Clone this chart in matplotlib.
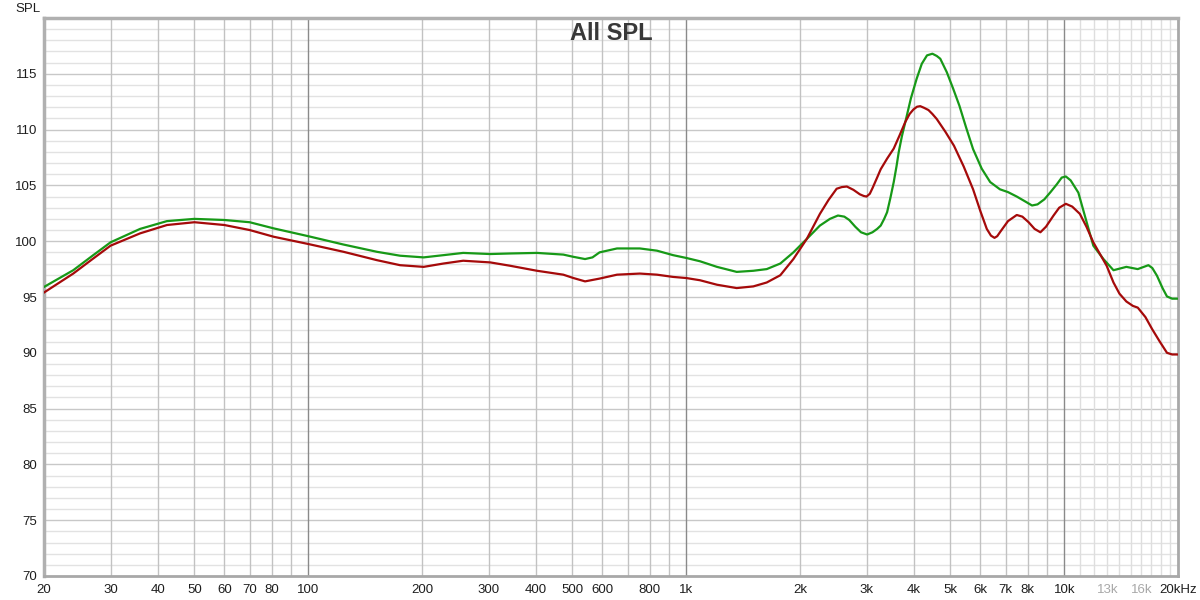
"""
Recreates the 'All SPL' frequency response plot (REW style) with matplotlib.
Saves the figure as out.png (1200x600).
"""

import matplotlib.pyplot as plt
from matplotlib.ticker import FixedLocator, NullLocator

# Frequency response readings (Hz, dB SPL)
green_freq = [20, 23.9, 27, 30, 35.9, 42.3, 50, 60, 70, 81, 100, 124, 152, 175,
              202, 228, 257, 303, 342, 403, 473, 503, 540, 565, 590, 656, 754,
              837, 923, 1000, 1088, 1206, 1360, 1505, 1633, 1774, 1921, 2084,
              2258, 2400, 2520, 2620, 2700, 2800, 2900, 3010, 3110, 3200, 3270,
              3340, 3400, 3470, 3540, 3600, 3650, 3720, 3800, 3930, 4070, 4200,
              4335, 4480, 4600, 4700, 4890, 5080, 5280, 5500, 5740, 6050, 6370,
              6760, 7100, 7490, 7850, 8220, 8500, 8860, 9200, 9560, 9850, 10100,
              10400, 10900, 11400, 11940, 12700, 13500, 14600, 15650, 16700,
              17100, 17600, 18200, 18700, 19300, 20000]
green_spl = [95.9, 97.4, 98.75, 99.9, 101.1, 101.8, 102.0, 101.9, 101.7, 101.15,
             100.45, 99.7, 99.05, 98.7, 98.55, 98.75, 98.95, 98.85, 98.9, 98.95,
             98.8, 98.6, 98.4, 98.55, 99.0, 99.35, 99.35, 99.15, 98.75, 98.5,
             98.2, 97.7, 97.25, 97.35, 97.5, 98.0, 99.0, 100.2, 101.4, 102.0,
             102.3, 102.2, 101.9, 101.3, 100.8, 100.6, 100.8, 101.1, 101.4,
             102.0, 102.6, 103.9, 105.3, 106.7, 108.0, 109.4, 110.7, 112.8,
             114.55, 115.9, 116.65, 116.8, 116.6, 116.35, 115.15, 113.7, 112.15,
             110.2, 108.25, 106.5, 105.3, 104.65, 104.4, 104.0, 103.6, 103.2,
             103.3, 103.75, 104.4, 105.1, 105.7, 105.8, 105.45, 104.35, 102.0,
             99.6, 98.4, 97.4, 97.7, 97.5, 97.85, 97.6, 96.9, 95.8, 95.05,
             94.85, 94.85]

red_freq = [20, 23.9, 27, 30, 35.9, 42.3, 50, 60, 70, 81, 100, 124, 152, 175,
            202, 228, 257, 303, 342, 403, 473, 503, 540, 590, 656, 754, 837,
            923, 1000, 1088, 1206, 1360, 1505, 1633, 1774, 1921, 2084, 2258,
            2380, 2500, 2580, 2660, 2770, 2880, 2950, 3000, 3060, 3110, 3190,
            3270, 3400, 3540, 3670, 3800, 3900, 3990, 4080, 4160, 4260, 4375,
            4480, 4600, 4850, 5110, 5420, 5740, 6000, 6240, 6400, 6540, 6650,
            6760, 7100, 7490, 7750, 8050, 8350, 8650, 8950, 9370, 9700, 10100,
            10500, 11000, 11450, 11940, 12950, 13500, 14000, 14600, 15200,
            15650, 16400, 17100, 17900, 18700, 19300, 20000]
red_spl = [95.4, 97.1, 98.45, 99.6, 100.7, 101.45, 101.7, 101.45, 101.0, 100.4,
           99.75, 99.05, 98.3, 97.85, 97.7, 98.0, 98.25, 98.1, 97.8, 97.35,
           97.0, 96.7, 96.4, 96.65, 97.0, 97.1, 97.0, 96.8, 96.7, 96.5, 96.1,
           95.8, 95.95, 96.3, 96.95, 98.4, 100.2, 102.45, 103.7, 104.7, 104.85,
           104.9, 104.6, 104.2, 104.05, 104.0, 104.25, 104.75, 105.6, 106.45,
           107.4, 108.3, 109.5, 110.7, 111.4, 111.8, 112.05, 112.1, 111.95,
           111.75, 111.4, 110.95, 109.8, 108.55, 106.7, 104.65, 102.7, 101.1,
           100.5, 100.3, 100.45, 100.8, 101.8, 102.35, 102.2, 101.7, 101.1,
           100.8, 101.3, 102.3, 103.0, 103.35, 103.1, 102.45, 101.3, 99.9,
           97.8, 96.3, 95.3, 94.6, 94.2, 94.05, 93.2, 92.1, 91.0, 90.0, 89.85,
           89.85]

# Axis labels
x_ticks = [20, 30, 40, 50, 60, 70, 80, 100, 200, 300, 400, 500, 600, 800,
           1000, 2000, 3000, 4000, 5000, 6000, 7000, 8000, 10000, 13000, 16000,
           20000]
x_labels = ['20', '30', '40', '50', '60', '70', '80', '100', '200', '300', '400',
            '500', '600', '800', '1k', '2k', '3k', '4k', '5k', '6k', '7k', '8k',
            '10k', '13k', '16k', '20kHz']
y_ticks = [70, 75, 80, 85, 90, 95, 100, 105, 110, 115]


def draw_grid(ax):
    """Horizontal 1 dB / 5 dB lines and log-frequency vertical lines."""
    for v in range(71, 120):
        color = '#c8c8c8' if v % 5 == 0 else '#e2e2e2'
        ax.axhline(v, color=color, linewidth=1.0, zorder=0)
    for decade in (10, 100, 1000):
        for m in range(2, 10):
            f = decade * m
            if f < 20:
                continue
            ax.axvline(f, color='#c2c2c2', linewidth=1.0, zorder=0)
    for f in (100, 1000, 10000):
        ax.axvline(f, color='#8a8a8a', linewidth=1.0, zorder=0)
    # Finer, lighter lines above 10 kHz
    for f in range(11000, 20000, 1000):
        ax.axvline(f, color='#dedede', linewidth=1.0, zorder=0)


def main():
    plt.rcParams['font.family'] = ['Liberation Sans', 'DejaVu Sans']
    fig = plt.figure(figsize=(12, 6), dpi=100)
    ax = fig.add_axes([44 / 1200, 24 / 600, 1134 / 1200, 558 / 600])

    ax.set_xscale('log')
    ax.set_xlim(20, 20000)
    ax.set_ylim(70, 120)

    draw_grid(ax)

    ax.plot(green_freq, green_spl, color='#179917', linewidth=1.6,
            solid_joinstyle='round', zorder=3)
    ax.plot(red_freq, red_spl, color='#a50a0a', linewidth=1.6,
            solid_joinstyle='round', zorder=3)

    # Ticks
    ax.xaxis.set_major_locator(FixedLocator(x_ticks))
    ax.xaxis.set_minor_locator(NullLocator())
    ax.set_xticklabels(x_labels)
    ax.set_yticks(y_ticks)
    ax.yaxis.set_minor_locator(NullLocator())
    ax.tick_params(axis='both', length=0, labelsize=9.5, colors='#1e1e1e')
    ax.tick_params(axis='x', pad=6)
    ax.tick_params(axis='y', pad=5)
    for lbl in ax.get_xticklabels():
        if lbl.get_text() in ('13k', '16k'):
            lbl.set_color('#a8a8a8')

    # Frame with a soft grey edge
    for side in ('left', 'top'):
        ax.spines[side].set_color('#b0b0b0')
        ax.spines[side].set_linewidth(2.5)
    for side in ('right', 'bottom'):
        ax.spines[side].set_color('#a8a8a8')
        ax.spines[side].set_linewidth(2.0)

    ax.text(0.5, 0.972, 'All SPL', transform=ax.transAxes, ha='center',
            va='center', fontsize=17, fontweight='bold', color='#383838',
            zorder=5)
    fig.text(27.5 / 1200, 1 - 8.5 / 600, 'SPL', ha='center', va='center',
             fontsize=9.5, color='#1e1e1e')

    fig.savefig('out.png', dpi=100)


if __name__ == '__main__':
    main()
